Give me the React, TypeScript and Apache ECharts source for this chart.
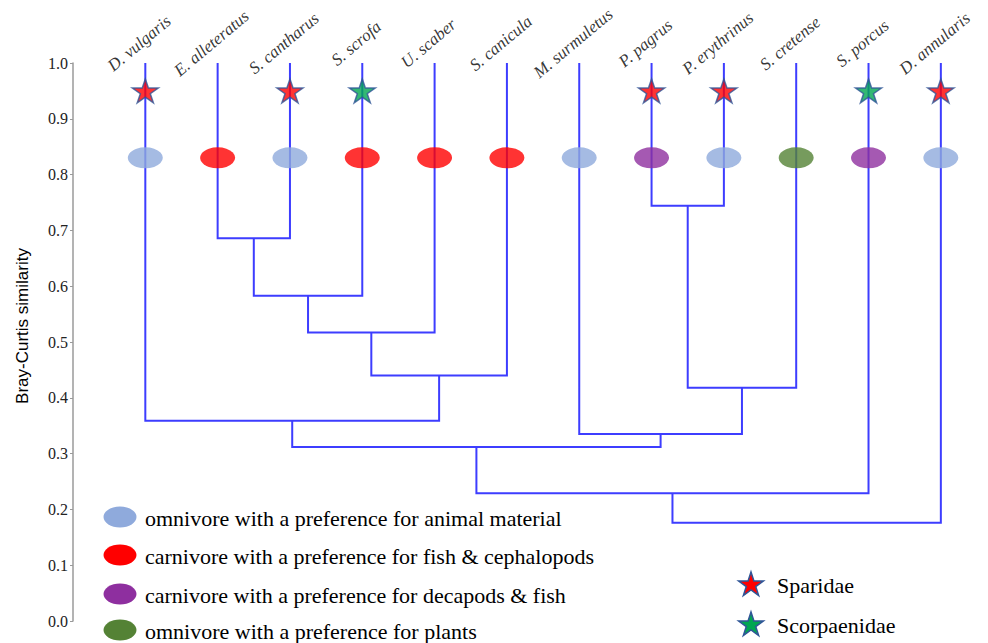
import React, { useEffect, useRef } from "react";
import * as echarts from "echarts";

// ---- data ----
const leaves = [
  "D. vulgaris", "E. alleteratus", "S. cantharus", "S. scrofa", "U. scaber", "S. canicula",
  "M. surmuletus", "P. pagrus", "P. erythrinus", "S. cretense", "S. porcus", "D. annularis",
];
// diet group index per leaf (see dietLabels)
const leafDiet = [0, 1, 0, 1, 1, 1, 0, 2, 0, 3, 2, 0];
// family index per leaf (-1 = none)
const leafFamily = [0, -1, 0, 1, -1, -1, -1, 0, 0, -1, 1, 0];
// merges: [childA, childB, similarity]; node ids: leaves 0..11, clusters 12+
const merges: [number, number, number][] = [
  [1, 2, 0.686],
  [12, 3, 0.583],
  [13, 4, 0.517],
  [14, 5, 0.44],
  [0, 15, 0.359],
  [7, 8, 0.744],
  [17, 9, 0.418],
  [6, 18, 0.335],
  [16, 19, 0.312],
  [20, 10, 0.229],
  [21, 11, 0.176],
];
const dietLabels = [
  "omnivore with a preference for animal material",
  "carnivore with a preference for fish & cephalopods",
  "carnivore with a preference for decapods & fish",
  "omnivore with a preference for plants",
];
const dietColors = ["#8FAADC", "#FF0000", "#8E2F9F", "#548235"];
const familyLabels = ["Sparidae", "Scorpaenidae"];
const familyColors = ["#FF0000", "#00A651"];
const ellipseLevel = 0.83;
const starLevel = 0.95;
const leafTop = 1.0;
const yTicks = [0, 0.1, 0.2, 0.3, 0.4, 0.5, 0.6, 0.7, 0.8, 0.9, 1.0];

const STAR =
  "path://M0,-1L0.2245,-0.309L0.951,-0.309L0.363,0.118L0.588,0.809L0,0.382L-0.588,0.809L-0.363,0.118L-0.951,-0.309L-0.2245,-0.309Z";

function starPoints(cx: number, cy: number, r: number) {
  const pts: number[][] = [];
  for (let k = 0; k < 10; k++) {
    const a = (-90 + k * 36) * (Math.PI / 180);
    const rr = k % 2 === 0 ? r : r * 0.382;
    pts.push([cx + rr * Math.cos(a), cy + rr * Math.sin(a)]);
  }
  return pts;
}

export default function App() {
  const ref = useRef<HTMLDivElement>(null);
  useEffect(() => {
    if (!ref.current) return;
    const chart = echarts.init(ref.current, undefined, { renderer: "svg" });

    // node positions
    const nodeX: number[] = leaves.map((_, i) => i);
    const nodeY: number[] = leaves.map(() => leafTop);
    const segs: number[][] = [];
    merges.forEach(([a, b, h]) => {
      segs.push([nodeX[a], nodeY[a], nodeX[b], nodeY[b], h]);
      nodeX.push((nodeX[a] + nodeX[b]) / 2);
      nodeY.push(h);
    });

    const serif = "Liberation Serif";
    const legendGraphics: any[] = [];
    const legY = [517, 555, 594, 630];
    dietLabels.forEach((t, k) => {
      legendGraphics.push({
        type: "ellipse",
        shape: { cx: 120, cy: legY[k], rx: 16.5, ry: 10.5 },
        style: { fill: dietColors[k] },
      });
      legendGraphics.push({
        type: "text",
        x: 145,
        y: legY[k] + 1,
        style: { text: t, fill: "#000", font: `22px "Liberation Serif", serif`, textVerticalAlign: "middle", textAlign: "left" },
      });
    });
    const famY = [585, 625];
    familyLabels.forEach((t, k) => {
      legendGraphics.push({
        type: "polygon",
        shape: { points: starPoints(751, famY[k], 13) },
        style: { fill: familyColors[k], stroke: "#2F5597", lineWidth: 1.5 },
      });
      legendGraphics.push({
        type: "text",
        x: 777,
        y: famY[k],
        style: { text: t, fill: "#000", font: `22px "Liberation Serif", serif`, textVerticalAlign: "middle", textAlign: "left" },
      });
    });
    legendGraphics.push({
      type: "text",
      x: 22,
      y: 326,
      rotation: Math.PI / 2,
      style: {
        text: "Bray-Curtis similarity",
        fill: "#000",
        font: `17px "Liberation Sans", Arial, sans-serif`,
        textAlign: "center",
        textVerticalAlign: "middle",
      },
    });

    chart.setOption({
      animation: false,
      backgroundColor: "#fff",
      grid: { left: 73, top: 63, width: 904, height: 558, containLabel: false },
      xAxis: { type: "value", min: -1, max: 11.5, show: false },
      yAxis: {
        type: "value",
        min: 0,
        max: 1,
        interval: 0.1,
        axisLine: { show: true, onZero: false, lineStyle: { color: "#9a9a9a", width: 1.5 } },
        axisTick: { show: true, length: 3, lineStyle: { color: "#9a9a9a" } },
        splitLine: { show: false },
        axisLabel: {
          margin: 5,
          color: "#222",
          fontFamily: serif,
          fontSize: 16,
          formatter: (v: number) => (yTicks.some((t) => Math.abs(t - v) < 1e-9) ? v.toFixed(1) : ""),
        },
      },
      graphic: legendGraphics,
      series: [
        {
          type: "custom",
          data: segs,
          clip: false,
          renderItem: (params: any, api: any) => {
            const xa = api.value(0), ya = api.value(1), xb = api.value(2), yb = api.value(3), h = api.value(4);
            const pts = [api.coord([xa, ya]), api.coord([xa, h]), api.coord([xb, h]), api.coord([xb, yb])];
            return {
              type: "polyline",
              shape: { points: pts },
              style: { stroke: "#3D3DFF", lineWidth: 2, fill: "none" },
            };
          },
          z: 1,
        },
        {
          type: "scatter",
          clip: false,
          symbol: "circle",
          symbolSize: [35, 21],
          data: leaves.map((n, i) => ({
            name: n,
            value: [i, ellipseLevel],
            itemStyle: { color: dietColors[leafDiet[i]] },
          })),
          z: 3,
        },
        {
          type: "scatter",
          clip: false,
          symbol: STAR,
          symbolKeepAspect: true,
          symbolSize: [26, 25],
          data: leaves
            .map((n, i) => ({ n, i }))
            .filter((d) => leafFamily[d.i] >= 0)
            .map((d) => ({
              name: d.n,
              value: [d.i, starLevel],
              itemStyle: { color: familyColors[leafFamily[d.i]], borderColor: "#2F5597", borderWidth: 1.5 },
            })),
          z: 4,
        },
        {
          type: "scatter",
          clip: false,
          symbolSize: 0,
          silent: true,
          data: leaves.map((n, i) => ({ name: n, value: [i, leafTop] })),
          label: {
            show: true,
            position: "inside",
            formatter: (p: any) => p.name,
            rotate: 40,
            offset: [8, -19],
            align: "center",
            verticalAlign: "middle",
            color: "#000",
            fontFamily: serif,
            fontStyle: "italic",
            fontSize: 17,
          },
          z: 5,
        },
      ],
    });
    return () => chart.dispose();
  }, []);
  return <div ref={ref} style={{ position: "fixed", left: 0, top: 0, width: 988, height: 643 }} />;
}
